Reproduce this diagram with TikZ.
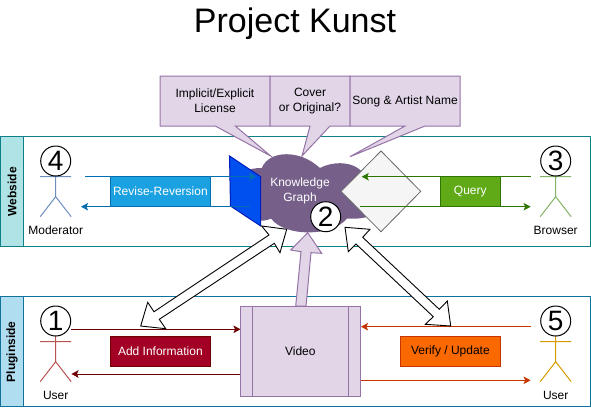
\documentclass[tikz,border=0pt]{standalone}
\usepackage{fontspec}
\setmainfont{Liberation Sans}
\usetikzlibrary{arrows.meta}

\definecolor{webFill}{HTML}{B0E3E6}
\definecolor{webLine}{HTML}{0E8088}
\definecolor{plugFill}{HTML}{B1DDF0}
\definecolor{plugLine}{HTML}{10739E}
\definecolor{lilacFill}{HTML}{E1D5E7}
\definecolor{lilacLine}{HTML}{9673A6}
\definecolor{graphFill}{HTML}{76608A}
\definecolor{blueFill}{HTML}{1BA1E2}
\definecolor{blueLine}{HTML}{006EAF}
\definecolor{greenFill}{HTML}{60A917}
\definecolor{greenLine}{HTML}{2D7600}
\definecolor{redFill}{HTML}{A20025}
\definecolor{redLine}{HTML}{6F0000}
\definecolor{orangeFill}{HTML}{FA6800}
\definecolor{orangeLine}{HTML}{C73500}
\definecolor{cobaltFill}{HTML}{0050EF}
\definecolor{cobaltLine}{HTML}{001DBC}

\tikzset{
  txt/.style={font=\fontsize{12}{15}\selectfont, align=center, inner sep=0pt, outer sep=0pt},
  lane/.style={draw, line width=1pt},
  lanetitle/.style={txt, font=\fontsize{12}{15}\selectfont\bfseries, rotate=90, text=black},
  callout/.style={fill=lilacFill, draw=lilacLine, line width=1pt},
  action/.style={txt, draw, line width=1pt, minimum width=100.7pt, minimum height=30pt},
  flow/.style={line width=1pt, -{Stealth[length=7pt,width=7.5pt,inset=1.5pt]}},
  bigarrow/.style={fill=white, draw=black, line width=0.9pt, line join=miter},
  numbered/.style={circle, draw=black, fill=white, line width=1pt, minimum size=30pt, inner sep=0pt,
    font=\fontsize{28}{28}\selectfont},
}

\begin{document}
\begin{tikzpicture}[x=1pt,y=-1pt]
\useasboundingbox (0,0) rectangle (591,408);

\node[txt, font=\fontsize{34}{34}\selectfont] (title) at (295,23.5) {Project Kunst};

\draw[lane, draw=webLine] (0.5,136.7) rectangle (590.5,246.7);
\draw[lane, draw=webLine, fill=webFill] (0.5,136.7) rectangle (23.5,246.7);
\node[lanetitle] (webside) at (12,191.7) {Webside};

\draw[lane, draw=plugLine] (0.5,296.7) rectangle (590.5,406.7);
\draw[lane, draw=plugLine, fill=plugFill] (0.5,296.7) rectangle (23.5,406.7);
\node[lanetitle] (pluginside) at (12,351.7) {Pluginside};

\draw[callout] (160,76) -- (270,76) -- (270,126) -- (235.3,126) -- (270.7,156) -- (215.3,126) -- (160,126) -- cycle;
\draw[callout] (270,76) -- (350,76) -- (350,126) -- (330,126) -- (302,156) -- (310,126) -- (270,126) -- cycle;
\draw[callout] (350,76) -- (460,76) -- (460,126) -- (425,126) -- (350,156.7) -- (405,126) -- (350,126) -- cycle;
\node[txt] (license) at (215,101) {Implicit/Explicit\\License};
\node[txt] (cover) at (310,101) {Cover\\or Original?};
\node[txt] (song) at (405,101) {Song \& Artist Name};

\begin{scope}[shift={(223,145)}, x=155pt, y=-92pt]
\fill[graphFill] (0.25,0.25) .. controls (0.05,0.25) and (0,0.5) .. (0.16,0.55)
  .. controls (0,0.66) and (0.18,0.9) .. (0.31,0.8)
  .. controls (0.4,1) and (0.7,1) .. (0.8,0.8)
  .. controls (1.06,0.82) and (1,0.6) .. (0.875,0.5)
  .. controls (1,0.3) and (0.8,0.1) .. (0.625,0.25)
  .. controls (0.5,0.05) and (0.3,0.05) .. (0.25,0.25) -- cycle;
\end{scope}
\node[txt, text=white] (graph) at (300,191) {Knowledge\\Graph};

\draw[fill=cobaltFill, draw=cobaltLine, line width=1pt] (229.5,156) -- (260.7,176.7) -- (260.7,226) -- (230.5,206) -- cycle;
\draw[fill=black!4, draw=black!60, line width=0.8pt] (341,191.4) -- (381,151) -- (420.7,191.4) -- (381,231.7) -- cycle;

\foreach \name/\xpos/\ypos/\arm/\col/\num/\lab in {mod/55.7/161/176.7/6C8EBF/4/Moderator, browser/555.7/161/176.7/82B366/3/Browser,
    user/55.7/321/341.7/B85450/1/User, checker/555.7/321/341.7/D79B00/5/User} {
  \definecolor{actorLine}{HTML}{\col}
  \draw[actorLine, line width=1pt] (\xpos,\ypos+15) -- (\xpos,\arm+20) -- (\xpos-15.5,\arm+40)
    (\xpos,\arm+20) -- (\xpos+15.5,\arm+40)
    (\xpos-15.5,\arm) -- ++(31,0);
  \node[numbered] (circle\name) at (\xpos,\ypos) {\num};
  \node[txt] (label\name) at (\xpos,\arm+53.5) {\lab};
}
\node[numbered] (circlegraph) at (325.7,216.7) {2};

\coordinate (modOut) at (85,176.7);
\coordinate (graphIn) at (256,176.7);
\coordinate (graphOut) at (250,206.7);
\coordinate (modIn) at (81,206.7);
\coordinate (browserOut) at (530.6,176.7);
\coordinate (diamondIn) at (361.7,176.7);
\coordinate (diamondOut) at (360,206.7);
\coordinate (browserIn) at (530.6,206.7);
\coordinate (userOut) at (71,329.3);
\coordinate (videoIn) at (240.5,329.3);
\coordinate (videoOut) at (240,374);
\coordinate (userIn) at (71.5,374);
\coordinate (checkerOut) at (530.6,326.7);
\coordinate (videoBack) at (361,326.7);
\coordinate (videoFwd) at (360.6,380.3);
\coordinate (checkerIn) at (530.6,380.3);

\draw[flow, blueLine] (modOut) -- (graphIn);
\draw[flow, blueLine] (graphOut) -- (modIn);
\draw[flow, greenLine] (browserOut) -- (diamondIn);
\draw[flow, greenLine] (diamondOut) -- (browserIn);
\draw[flow, redLine] (userOut) -- (videoIn);
\draw[flow, redLine] (videoOut) -- (userIn);
\draw[flow, orangeLine] (checkerOut) -- (videoBack);
\draw[flow, orangeLine] (videoFwd) -- (checkerIn);

\node[action, fill=blueFill, draw=blueLine, text=white] (revise) at (160.4,191.7) {Revise-Reversion};
\node[action, fill=greenFill, draw=greenLine, text=white, minimum width=60.6pt] (query) at (470.3,191.7) {Query};
\node[action, fill=redFill, draw=redLine, text=white] (addinfo) at (160.4,351.4) {Add Information};
\node[action, fill=orangeFill, draw=orangeLine, text=black] (verify) at (450.4,351.7) {Verify / Update};

\draw[callout] (295.7,306) -- (301,251.7) -- (290.7,250) -- (307.7,232.7) -- (321.7,253.3) -- (311,252.7) -- (306,306) -- cycle;

\draw[callout] (240,306) rectangle (360.6,396.7);
\draw[callout] (252.3,306) -- (252.3,396.7) (348.3,306) -- (348.3,396.7);
\node[txt] (video) at (300.3,351) {Video};

\draw[bigarrow] (261.7,226) -- (286.7,229.3) -- (280,252.7) -- (274.3,243.3) -- (159.3,319.3) -- (165.7,328.7)
  -- (140.7,326) -- (147.7,302.3) -- (154,311.7) -- (269,235) -- cycle;
\draw[bigarrow] (345,227.3) -- (370,229.3) -- (362.7,237.3) -- (439.3,309.3) -- (447.3,301) -- (450.7,326)
  -- (425.3,324.3) -- (433.3,316.7) -- (356,244) -- (348.3,251.7) -- cycle;

\end{tikzpicture}
\end{document}
